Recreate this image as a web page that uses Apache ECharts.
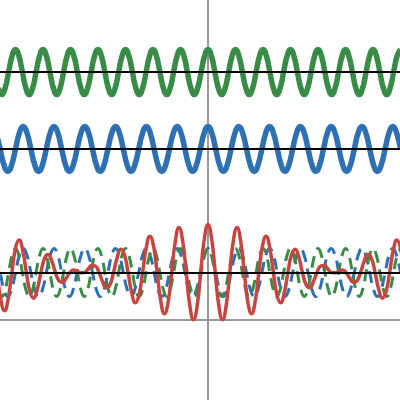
<!DOCTYPE html>
<html><head><meta charset="utf-8">
<script src="https://cdn.jsdelivr.net/npm/echarts@6/dist/echarts.min.js"></script>
<style>html,body{margin:0;padding:0;background:#fff}#c{width:400px;height:400px}</style>
</head><body><div id="c"></div><script>
// Periods (in pixel-like x units), samples taken 8 per period
const greenPeriod = 27.5;
const bluePeriod = 30.8;
const sumPeriod = 29.06;
const samplesPerPeriod = 8;
const greenStart = -61;
const blueStart = -55;
const sumStart = -58;

const greenWave = [
-0.707,-1,-0.707,0,0.707,1,0.707,0,
-0.707,-1,-0.707,0,0.707,1,0.707,0,
-0.707,-1,-0.707,0,0.707,1,0.707,0,
-0.707,-1,-0.707,0,0.707,1,0.707,0,
-0.707,-1,-0.707,0,0.707,1,0.707,0,
-0.707,-1,-0.707,0,0.707,1,0.707,0,
-0.707,-1,-0.707,0,0.707,1,0.707,0,
-0.707,-1,-0.707,0,0.707,1,0.707,0,
-0.707,-1,-0.707,0,0.707,1,0.707,0,
-0.707,-1,-0.707,0,0.707,1,0.707,0,
-0.707,-1,-0.707,0,0.707,1,0.707,0,
-0.707,-1,-0.707,0,0.707,1,0.707,0,
-0.707,-1,-0.707,0,0.707,1,0.707,0,
-0.707,-1,-0.707,0,0.707,1,0.707,0,
-0.707,-1,-0.707,0,0.707,1
];
const blueWave = [
0.707,0,-0.707,-1,-0.707,0,0.707,1,
0.707,0,-0.707,-1,-0.707,0,0.707,1,
0.707,0,-0.707,-1,-0.707,0,0.707,1,
0.707,0,-0.707,-1,-0.707,0,0.707,1,
0.707,0,-0.707,-1,-0.707,0,0.707,1,
0.707,0,-0.707,-1,-0.707,0,0.707,1,
0.707,0,-0.707,-1,-0.707,0,0.707,1,
0.707,0,-0.707,-1,-0.707,0,0.707,1,
0.707,0,-0.707,-1,-0.707,0,0.707,1,
0.707,0,-0.707,-1,-0.707,0,0.707,1,
0.707,0,-0.707,-1,-0.707,0,0.707,1,
0.707,0,-0.707,-1,-0.707,0,0.707,1,
0.707,0,-0.707,-1,-0.707,0,0.707,1,
0.707,0
];
const sumWave = [
0,-1.162,-1.590,-1.085,0,1.000,1.350,0.908,
0,-0.808,-1.068,-0.701,0,0.590,0.752,0.473,
0,-0.353,-0.413,-0.230,0,0.105,0.060,-0.011,
0,0.140,0.288,0.267,0,-0.390,-0.638,-0.511,
0,0.627,0.965,0.738,0,-0.841,-1.261,-0.939,
0,1.030,1.515,1.111,0,-1.184,-1.722,-1.248,
0,1.302,1.875,1.346,0,-1.380,-1.968,-1.401,
0,1.413,
2.000,
1.413,0,-1.401,-1.968,-1.380,0,1.346,1.875,
1.302,0,-1.248,-1.722,-1.184,0,1.111,1.515,
1.030,0,-0.939,-1.261,-0.841,0,0.738,0.965,
0.627,0,-0.511,-0.638,-0.390,0,0.267,0.288,
0.140,0,-0.011,0.060,0.105,0,-0.230,-0.413,
-0.353,0,0.473,0.752,0.590,0,-0.701,-1.068,
-0.808,0,0.908,1.350,1.000,0
];

function pairs(values, start, period) {
  const step = period / samplesPerPeriod;
  return values.map((v, i) => [(start + i) * step, v]);
}

// layout: baseline pixel row and pixel amplitude per unit for each band
const H = 400;
function band(center, amp) {
  return { type: 'value', show: false, min: (center - H) / amp, max: center / amp, splitLine: { show: false } };
}
const GREEN = '#388c46', BLUE = '#2d70b3', RED = '#c74440';
const baseLine = {
  silent: true, symbol: 'none', animation: false, z: 10,
  label: { show: false }, emphasis: { disabled: true },
  lineStyle: { color: '#000', width: 2, type: 'solid' },
  data: [{ yAxis: 0 }]
};

const chart = echarts.init(document.getElementById('c'), null, { renderer: 'canvas' });
chart.setOption({
  animation: false,
  backgroundColor: '#fff',
  grid: { left: 0, right: 0, top: 0, bottom: 0, containLabel: false },
  xAxis: {
    type: 'value', min: -208, max: 192,
    axisLine: { show: true, onZero: true, onZeroAxisIndex: 0, lineStyle: { color: '#999', width: 2 } },
    axisTick: { show: false }, axisLabel: { show: false }, splitLine: { show: false }
  },
  yAxis: [
    { type: 'value', min: -80, max: 320,
      axisLine: { show: true, onZero: true, lineStyle: { color: '#999', width: 2 } },
      axisTick: { show: false }, axisLabel: { show: false }, splitLine: { show: false } },
    band(72, 22.5),
    band(149, 22.5),
    band(272.5, 24)
  ],
  series: [
    { type: 'line', yAxisIndex: 1, data: pairs(greenWave, greenStart, greenPeriod), smooth: true,
      showSymbol: false, lineStyle: { color: GREEN, width: 5.5 }, markLine: baseLine },
    { type: 'line', yAxisIndex: 2, data: pairs(blueWave, blueStart, bluePeriod), smooth: true,
      showSymbol: false, lineStyle: { color: BLUE, width: 5.5 }, markLine: baseLine },
    { type: 'line', yAxisIndex: 3, data: pairs(blueWave, blueStart, bluePeriod), smooth: true,
      showSymbol: false, lineStyle: { color: BLUE, width: 3, type: [12, 7] } },
    { type: 'line', yAxisIndex: 3, data: pairs(greenWave, greenStart, greenPeriod), smooth: true,
      showSymbol: false, lineStyle: { color: GREEN, width: 3, type: [12, 7] } },
    { type: 'line', yAxisIndex: 3, data: pairs(sumWave, sumStart, sumPeriod), smooth: true,
      showSymbol: false, lineStyle: { color: RED, width: 3.5 }, markLine: baseLine }
  ]
});
</script></body></html>
